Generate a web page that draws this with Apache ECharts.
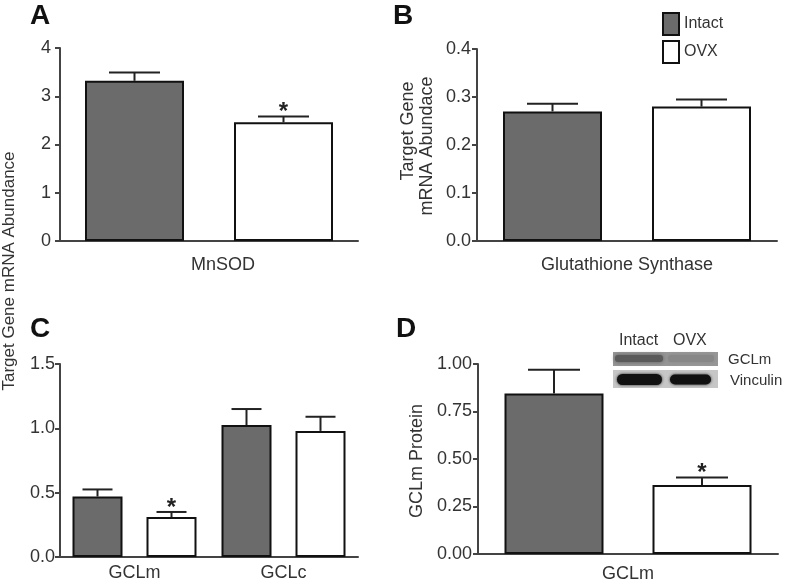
<!DOCTYPE html>
<html><head><meta charset="utf-8">
<script src="https://cdn.jsdelivr.net/npm/echarts@6/dist/echarts.min.js"></script>
<style>html,body{margin:0;padding:0;background:#fff}#c{width:785px;height:583px}</style>
</head><body><div id="c"></div>
<script>
// ---- data ----
const seriesNames = ['Intact', 'OVX'];

const categoriesA = ['MnSOD'];
const intactA = [3.32];
const intactErrA = [0.17];
const ovxA = [2.46];
const ovxErrA = [0.12];
const intactSigA = [0];
const ovxSigA = [1];
const ticksA = [0, 1, 2, 3, 4];

const categoriesB = ['Glutathione Synthase'];
const intactB = [0.270];
const intactErrB = [0.016];
const ovxB = [0.280];
const ovxErrB = [0.015];
const intactSigB = [0];
const ovxSigB = [0];
const ticksB = [0.0, 0.1, 0.2, 0.3, 0.4];

const categoriesC = ['GCLm', 'GCLc'];
const intactC = [0.47, 1.025];
const intactErrC = [0.055, 0.125];
const ovxC = [0.31, 0.98];
const ovxErrC = [0.04, 0.11];
const intactSigC = [0, 0];
const ovxSigC = [1, 0];
const ticksC = [0.0, 0.5, 1.0, 1.5];

const categoriesD = ['GCLm'];
const intactD = [0.845];
const intactErrD = [0.125];
const ovxD = [0.363];
const ovxErrD = [0.04];
const intactSigD = [0];
const ovxSigD = [1];
const ticksD = [0.00, 0.25, 0.50, 0.75, 1.00];

const panelLetters = ['A', 'B', 'C', 'D'];
const yNameAC = 'Target Gene mRNA Abundance';
const yNameB = ['Target Gene', 'mRNA Abundace'];
const yNameD = 'GCLm Protein';
const blotLanes = ['Intact', 'OVX'];
const blotRows = ['GCLm', 'Vinculin'];

// ---- style ----
const FONT = '"Liberation Sans", Arial, Helvetica, sans-serif';
const TXT = '#333';
const AX = '#444';
const BORDER = '#111';
const FILLS = ['#6b6b6b', '#ffffff'];

const grids = [
  { left: 60, top: 48, width: 298, height: 193 },
  { left: 477, top: 49, width: 300, height: 192 },
  { left: 60, top: 364, width: 298, height: 193 },
  { left: 478, top: 364, width: 300, height: 193 }
];
const panelStyle = [
  { bw: 99, gap: 50, cap: 51, xMargin: 15, yMargin: 9, xPad: [0, 0, 0, 28] },
  { bw: 99, gap: 50, cap: 51, xMargin: 15, yMargin: 6, xPad: 0 },
  { bw: 50, gap: 24, cap: 30, xMargin: 7, yMargin: 5, xPad: 0 },
  { bw: 99, gap: 49, cap: 52, xMargin: 11, yMargin: 6, xPad: 0 }
];

const panels = [
  { cats: categoriesA, vals: [intactA, ovxA], errs: [intactErrA, ovxErrA], sig: [intactSigA, ovxSigA], ticks: ticksA, dec: 0 },
  { cats: categoriesB, vals: [intactB, ovxB], errs: [intactErrB, ovxErrB], sig: [intactSigB, ovxSigB], ticks: ticksB, dec: 1 },
  { cats: categoriesC, vals: [intactC, ovxC], errs: [intactErrC, ovxErrC], sig: [intactSigC, ovxSigC], ticks: ticksC, dec: 1 },
  { cats: categoriesD, vals: [intactD, ovxD], errs: [intactErrD, ovxErrD], sig: [intactSigD, ovxSigD], ticks: ticksD, dec: 2 }
];

const xAxis = [], yAxis = [], series = [];
panels.forEach((p, i) => {
  const st = panelStyle[i];
  xAxis.push({
    type: 'category', gridIndex: i, data: p.cats,
    axisLine: { lineStyle: { color: AX, width: 2 } },
    axisTick: { show: false },
    axisLabel: { color: TXT, fontSize: 18, fontFamily: FONT, margin: st.xMargin, padding: st.xPad }
  });
  const t = p.ticks;
  yAxis.push({
    type: 'value', gridIndex: i, min: t[0], max: t[t.length - 1], interval: t[1] - t[0],
    axisLine: { show: true, lineStyle: { color: AX, width: 2 } },
    axisTick: { show: true, length: 5, lineStyle: { color: AX, width: 2 } },
    splitLine: { show: false },
    axisLabel: { color: TXT, fontSize: 18, fontFamily: FONT, margin: st.yMargin,
      formatter: v => Number(v).toFixed(p.dec) }
  });
  seriesNames.forEach((name, s) => {
    series.push({
      type: 'bar', name: name, xAxisIndex: i, yAxisIndex: i,
      data: p.vals[s], barWidth: st.bw, barGap: (st.gap / st.bw * 100) + '%',
      itemStyle: { color: FILLS[s], borderColor: BORDER, borderWidth: 2 },
      emphasis: { disabled: true }, z: 2
    });
  });
  seriesNames.forEach((name, s) => {
    const off = (s === 0 ? -1 : 1) * (st.bw + st.gap) / 2;
    series.push({
      type: 'custom', name: name + ' error', xAxisIndex: i, yAxisIndex: i, z: 3,
      data: p.vals[s].map((v, k) => [k, v, p.errs[s][k], p.sig[s][k]]),
      encode: { x: 0, y: 1 },
      renderItem: (params, api) => {
        const k = api.value(0), v = api.value(1), e = api.value(2), sg = api.value(3);
        const p0 = api.coord([k, v]);
        const p1 = api.coord([k, v + e]);
        const x = p0[0] + off;
        const children = [
          { type: 'line', shape: { x1: x, y1: p0[1], x2: x, y2: p1[1] }, style: { stroke: '#222', lineWidth: 2 } },
          { type: 'line', shape: { x1: x - st.cap / 2, y1: p1[1], x2: x + st.cap / 2, y2: p1[1] }, style: { stroke: '#222', lineWidth: 2 } }
        ];
        if (sg) {
          children.push({ type: 'text', style: { text: '*', x: x, y: p1[1] - 4, fill: '#222',
            font: 'bold 24px ' + FONT, textAlign: 'center', textVerticalAlign: 'middle' } });
        }
        return { type: 'group', children: children };
      }
    });
  });
});

// graphic: panel letters, y names, blot inset
const letterPos = [[30, 2], [393, 2], [30, 315], [396, 315]];
const graphic = [];
panelLetters.forEach((L, i) => {
  graphic.push({ type: 'text', left: letterPos[i][0], top: letterPos[i][1],
    style: { text: L, font: 'bold 28px ' + FONT, fill: '#111' } });
});
graphic.push({ type: 'text', x: 9, y: 271, rotation: Math.PI / 2,
  style: { text: yNameAC, font: '17px ' + FONT, fill: TXT, textAlign: 'center', textVerticalAlign: 'middle' } });
graphic.push({ type: 'text', x: 408, y: 131, rotation: Math.PI / 2,
  style: { text: yNameB[0], font: '18px ' + FONT, fill: TXT, textAlign: 'center', textVerticalAlign: 'middle' } });
graphic.push({ type: 'text', x: 427, y: 146, rotation: Math.PI / 2,
  style: { text: yNameB[1], font: '18px ' + FONT, fill: TXT, textAlign: 'center', textVerticalAlign: 'middle' } });
graphic.push({ type: 'text', x: 417, y: 461, rotation: Math.PI / 2,
  style: { text: yNameD, font: '18px ' + FONT, fill: TXT, textAlign: 'center', textVerticalAlign: 'middle' } });

// blot inset
graphic.push({ type: 'text', x: 619, y: 341, style: { text: blotLanes[0], font: '16px ' + FONT, fill: TXT, textVerticalAlign: 'middle' } });
graphic.push({ type: 'text', x: 673, y: 341, style: { text: blotLanes[1], font: '16px ' + FONT, fill: TXT, textVerticalAlign: 'middle' } });
graphic.push({ type: 'rect', shape: { x: 613, y: 352, width: 105, height: 14 }, style: { fill: '#979797' } });
graphic.push({ type: 'rect', shape: { x: 615, y: 355, width: 48, height: 7, r: 3 }, style: { fill: '#5a5a5a', shadowBlur: 4, shadowColor: '#5a5a5a' } });
graphic.push({ type: 'rect', shape: { x: 668, y: 355, width: 46, height: 7, r: 3 }, style: { fill: '#878787', shadowBlur: 4, shadowColor: '#878787' } });
graphic.push({ type: 'rect', shape: { x: 613, y: 370, width: 105, height: 18 }, style: { fill: '#c6c6c6' } });
graphic.push({ type: 'rect', shape: { x: 617, y: 374, width: 45, height: 11, r: 5.5 }, style: { fill: '#111', shadowBlur: 3, shadowColor: '#222' } });
graphic.push({ type: 'rect', shape: { x: 670, y: 374.5, width: 41, height: 10, r: 5 }, style: { fill: '#111', shadowBlur: 3, shadowColor: '#222' } });
graphic.push({ type: 'text', x: 728, y: 360, style: { text: blotRows[0], font: '15px ' + FONT, fill: TXT, textVerticalAlign: 'middle' } });
graphic.push({ type: 'text', x: 730, y: 381, style: { text: blotRows[1], font: '15px ' + FONT, fill: TXT, textVerticalAlign: 'middle' } });

const chart = echarts.init(document.getElementById('c'), null, { renderer: 'canvas' });
chart.setOption({
  animation: false,
  backgroundColor: '#fff',
  grid: grids,
  xAxis: xAxis,
  yAxis: yAxis,
  legend: {
    data: seriesNames, orient: 'vertical', left: 662, top: 12, padding: 0,
    itemWidth: 16, itemHeight: 22, itemGap: 4, icon: 'rect',
    textStyle: { color: TXT, fontSize: 16, fontFamily: FONT },
    selectedMode: false
  },
  series: series,
  graphic: graphic
});
</script></body></html>
